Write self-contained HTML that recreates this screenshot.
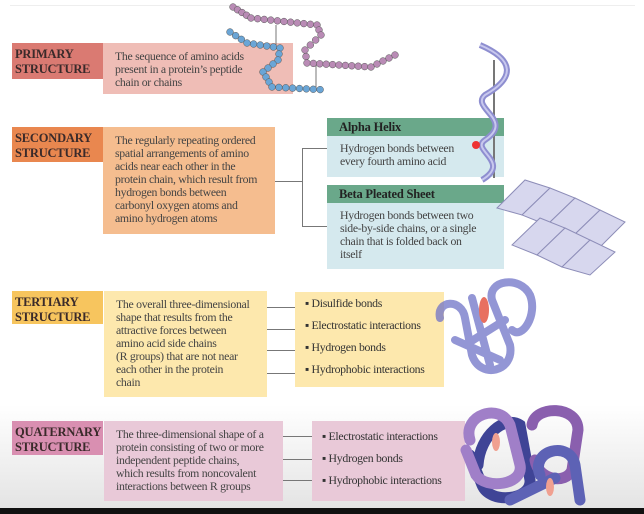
<!DOCTYPE html>
<html><head><meta charset="utf-8"><style>
body{margin:0;width:644px;height:514px;overflow:hidden;background:#fff;position:relative;font-family:"Liberation Serif",serif;color:#333}
div{position:absolute;box-sizing:border-box;white-space:nowrap}
.lab{font-weight:bold;font-size:12.5px;line-height:15px;padding:4px 0 0 3px;color:#3a2a2a;letter-spacing:-0.2px}
.txt{font-size:11.8px;line-height:13px;padding:7px 0 0 12px;color:#444;letter-spacing:-0.3px}
.hd{font-weight:bold;font-size:12.5px;padding:2px 0 0 12px;color:#222;background:#6aa88a;letter-spacing:-0.2px}
.bd{background:#d5e9ee;font-size:11.8px;line-height:13px;padding:6px 0 0 13px;color:#444;letter-spacing:-0.3px}
.bl{font-size:11.8px;line-height:22px;color:#333;letter-spacing:-0.3px}
.ln{background:#777;height:1px}
.vl{background:#777;width:1px}
</style></head><body>
<div style="left:0;top:405px;width:644px;height:103px;background:linear-gradient(#fff,#e4e4e4)"></div>
<div style="left:0;top:508px;width:644px;height:6px;background:#111"></div>
<div style="left:10px;top:5px;width:625px;height:1px;background:#eee"></div>

<div class="txt" style="left:103px;top:43px;width:190px;height:51px;background:#efbdb6">The sequence of amino acids<br>present in a protein’s peptide<br>chain or chains</div>
<div class="lab" style="left:12px;top:43px;width:91px;height:36px;background:#da7a72">PRIMARY<br>STRUCTURE</div>

<div class="lab" style="left:12px;top:127px;width:91px;height:35px;background:#e9874f">SECONDARY<br>STRUCTURE</div>
<div class="txt" style="left:103px;top:127px;width:172px;height:107px;background:#f5bd8f">The regularly repeating ordered<br>spatial arrangements of amino<br>acids near each other in the<br>protein chain, which result from<br>hydrogen bonds between<br>carbonyl oxygen atoms and<br>amino hydrogen atoms</div>
<div class="ln" style="left:275px;top:181px;width:27px"></div>
<div class="vl" style="left:302px;top:148px;height:78px"></div>
<div class="ln" style="left:302px;top:148px;width:25px"></div>
<div class="ln" style="left:302px;top:226px;width:25px"></div>
<div class="hd" style="left:327px;top:118px;width:177px;height:18px">Alpha Helix</div>
<div class="bd" style="left:327px;top:136px;width:177px;height:41px">Hydrogen bonds between<br>every fourth amino acid</div>
<div class="hd" style="left:327px;top:185px;width:177px;height:18px">Beta Pleated Sheet</div>
<div class="bd" style="left:327px;top:203px;width:177px;height:66px">Hydrogen bonds between two<br>side-by-side chains, or a single<br>chain that is folded back on<br>itself</div>

<div class="lab" style="left:12px;top:291px;width:91px;height:33px;background:#f7c55e">TERTIARY<br>STRUCTURE</div>
<div class="txt" style="left:104px;top:291px;width:163px;height:106px;background:#fde8ad">The overall three-dimensional<br>shape that results from the<br>attractive forces between<br>amino acid side chains<br>(R groups) that are not near<br>each other in the protein<br>chain</div>
<div class="ln" style="left:267px;top:307px;width:28px"></div>
<div class="ln" style="left:267px;top:329px;width:28px"></div>
<div class="ln" style="left:267px;top:350px;width:28px"></div>
<div class="ln" style="left:267px;top:373px;width:28px"></div>
<div class="bl" style="left:295px;top:292px;width:149px;height:95px;background:#fde8ad;padding:0 0 0 10px">▪ Disulfide bonds<br>▪ Electrostatic interactions<br>▪ Hydrogen bonds<br>▪ Hydrophobic interactions</div>

<div class="lab" style="left:12px;top:421px;width:91px;height:34px;background:#d98fb1">QUATERNARY<br>STRUCTURE</div>
<div class="txt" style="left:104px;top:421px;width:179px;height:80px;background:#e9c9d8">The three-dimensional shape of a<br>protein consisting of two or more<br>independent peptide chains,<br>which results from noncovalent<br>interactions between R groups</div>
<div class="ln" style="left:283px;top:436px;width:29px"></div>
<div class="ln" style="left:283px;top:459px;width:29px"></div>
<div class="ln" style="left:283px;top:480px;width:29px"></div>
<div class="bl" style="left:312px;top:421px;width:153px;height:80px;background:#e9c9d8;padding:4px 0 0 10px">▪ Electrostatic interactions<br>▪ Hydrogen bonds<br>▪ Hydrophobic interactions</div>

<svg width="644" height="514" style="position:absolute;left:0;top:0">
<line x1="276" y1="25" x2="276" y2="48" stroke="#777"/>
<line x1="316" y1="64" x2="316" y2="90" stroke="#777"/>
<g id="beads"></g>
<g>
<line x1="494" y1="60" x2="494" y2="178" stroke="#777" stroke-width="2"/>
<path d="M480 45 C515 60,515 78,485 95 C470 108,515 120,485 140 C470 150,512 162,482 180" fill="none" stroke="#8e8ed0" stroke-width="6"/>
<path d="M480 45 C515 60,515 78,485 95 C470 108,515 120,485 140 C470 150,512 162,482 180" fill="none" stroke="#c8c8ee" stroke-width="2"/>
<circle cx="476" cy="145" r="4" fill="#e33"/>
</g>
<g fill="#d7d7ee" stroke="#8d8db8" stroke-width="1">
<polygon points="497,208 525,180 550,188 522,215"/>
<polygon points="522,215 550,188 575,198 547,225"/>
<polygon points="547,225 575,198 600,210 572,237"/>
<polygon points="572,237 600,210 625,222 597,250"/>
<polygon points="512,245 540,218 565,228 537,255"/>
<polygon points="537,255 565,228 590,240 562,267"/>
<polygon points="562,267 590,240 615,252 590,275"/>
</g>
<g fill="none" stroke="#7073c8" stroke-width="8" stroke-linecap="round" opacity=".75">
<path d="M440 318 C436 300,462 298,465 318 L472 355 C480 380,515 372,510 345 L492 300 C487 280,520 275,530 295 C538 315,522 340,512 330"/>
<path d="M472 298 L490 365 M505 320 L470 342 M455 340 L500 360"/>
</g>
<ellipse cx="484" cy="310" rx="5" ry="13" fill="#e87060"/>
<g fill="none" stroke-width="11" stroke-linecap="round">
<path d="M478 465 C480 435,505 415,520 425 L530 480 C532 500,490 505,482 485 L470 455" stroke="#3f4496"/>
<path d="M470 440 C462 415,500 402,510 425 L520 465 C524 485,486 490,476 475 L466 450" stroke="#a07fc8"/>
<path d="M532 425 C535 405,578 405,578 430 L572 470 C566 485,538 480,535 460" stroke="#8a5fae"/>
<path d="M540 475 C530 450,570 440,575 465 L580 500 M510 500 L555 478" stroke="#5d62b5"/>
<ellipse cx="496" cy="442" rx="4" ry="9" fill="#f0a090" stroke="none"/>
<ellipse cx="550" cy="487" rx="4" ry="9" fill="#f0a090" stroke="none"/>
</g>
</svg>
<script>
const g=document.getElementById('beads');
function chain(pts,col,n){
  for(let s=0;s<pts.length-1;s++){const [a,b]=[pts[s],pts[s+1]];
    for(let i=0;i<n[s];i++){const t=i/n[s];
      const c=document.createElementNS('http://www.w3.org/2000/svg','circle');
      
      
      c.setAttribute('cx',a[0]+(b[0]-a[0])*t);c.setAttribute('cy',a[1]+(b[1]-a[1])*t);
      c.setAttribute('r',3.4);c.setAttribute('fill',col);c.setAttribute('stroke','#555');c.setAttribute('stroke-width','.5');g.appendChild(c);}}}
chain([[233,7],[251,18],[317,25],[321,35],[305,50],[307,63],[371,67],[401,52]],'#b98bb5',[4,10,2,3,2,10,5]);
chain([[230,32],[247,43],[280,48],[278,60],[263,72],[272,87],[327,90]],'#6aa5d6',[3,5,2,3,3,8]);
</script>
</body></html>
